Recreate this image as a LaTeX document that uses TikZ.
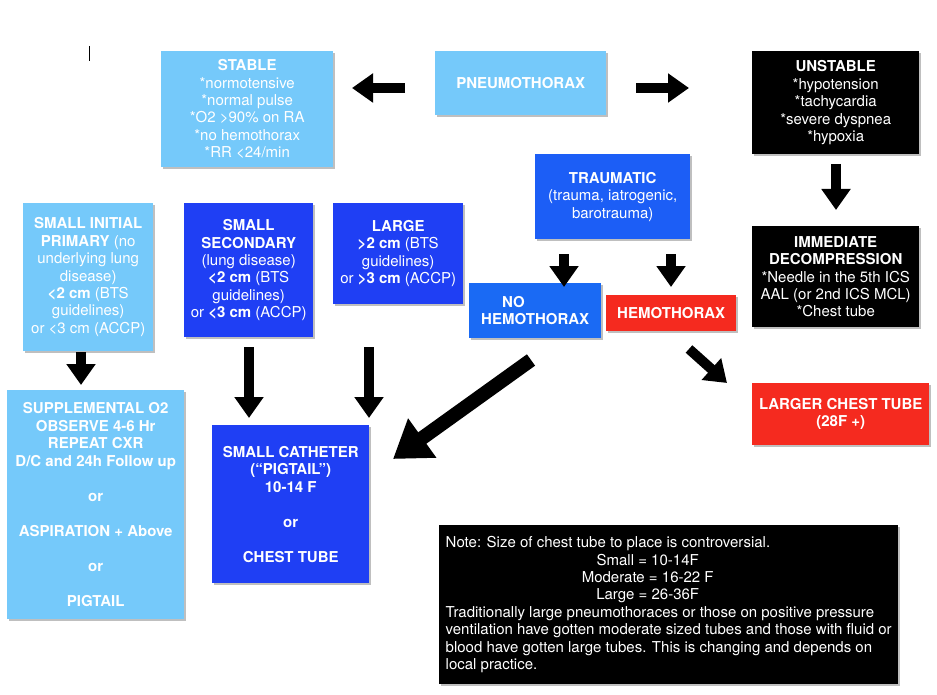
\documentclass[tikz,border=0pt]{standalone}
\usepackage{fontspec}
\setmainfont{TeX Gyre Heros}
\usetikzlibrary{arrows.meta,shadows}
\definecolor{lblue}{HTML}{75C9FA}
\definecolor{tblue}{HTML}{1C5EF6}
\definecolor{dblue}{HTML}{1F3FF4}
\definecolor{nblue}{HTML}{1A6AF4}
\definecolor{rred}{HTML}{F52A1F}
\tikzset{
  box/.style={anchor=north west, inner sep=0pt, align=center, text=white,
    font=\fontsize{15}{17.4}\selectfont,
    drop shadow={shadow xshift=1.5pt, shadow yshift=-2pt, fill=black, opacity=0.25}},
  lbbox/.style={box, fill=lblue},
  tbbox/.style={box, fill=tblue},
  dbbox/.style={box, fill=dblue},
  nbbox/.style={box, fill=nblue},
  rdbox/.style={box, fill=rred},
  bkbox/.style={box, fill=black},
  barrow/.style={line width=10pt, -{Triangle[length=21pt,width=28pt]}},
  bigarrow/.style={line width=14pt, -{Triangle[length=36pt,width=46pt]}},
}
\begin{document}
\begin{tikzpicture}[x=1pt,y=-1pt]
\useasboundingbox[fill=white] (0,0) rectangle (937,695);
\draw[line width=0.8pt] (89,46) -- (89,61);

\node[lbbox, minimum width=172pt, minimum height=116pt] (stable) at (161,51)
  {\textbf{STABLE}\\*normotensive\\*normal pulse\\*O2 >90\% on RA\\*no hemothorax\\*RR <24/min};
\node[lbbox, minimum width=171pt, minimum height=64pt] (pneu) at (435,51)
  {\textbf{PNEUMOTHORAX}};
\node[bkbox, minimum width=167pt, minimum height=103pt] (unstable) at (752,51)
  {\textbf{UNSTABLE}\\*hypotension\\*tachycardia\\*severe dyspnea\\*hypoxia};
\node[tbbox, minimum width=155pt, minimum height=85pt] (trauma) at (535,154)
  {\textbf{TRAUMATIC}\\(trauma, iatrogenic,\\barotrauma)};
\node[bkbox, minimum width=167pt, minimum height=101pt] (decomp) at (752,226)
  {\textbf{IMMEDIATE}\\\textbf{DECOMPRESSION}\\*Needle in the 5th ICS\\AAL (or 2nd ICS MCL)\\*Chest tube};
\node[lbbox, minimum width=130pt, minimum height=148pt] (sprim) at (23,203)
  {\textbf{SMALL INITIAL}\\\textbf{PRIMARY} (no\\underlying lung\\disease)\\\textbf{<2 cm} (BTS\\guidelines)\\or <3 cm (ACCP)};
\node[dbbox, minimum width=129pt, minimum height=134pt] (ssec) at (184,203)
  {\textbf{SMALL}\\\textbf{SECONDARY}\\(lung disease)\\\textbf{<2 cm} (BTS\\guidelines)\\or \textbf{<3 cm} (ACCP)};
\node[dbbox, minimum width=130pt, minimum height=101pt] (large) at (333,203)
  {\textbf{LARGE}\\\textbf{>2 cm} (BTS\\guidelines)\\or \textbf{>3 cm} (ACCP)};
\node[nbbox, minimum width=132pt, minimum height=55pt, align=left] (nohemo) at (469,283)
  {\hspace*{21pt}\textbf{NO}\\\textbf{HEMOTHORAX}};
\node[rdbox, minimum width=130pt, minimum height=36pt] (hemo) at (606,295)
  {\textbf{HEMOTHORAX}};
\node[rdbox, minimum width=177pt, minimum height=62pt] (larger) at (752,383)
  {\textbf{LARGER CHEST TUBE}\\\textbf{(28F +)}};
\node[lbbox, minimum width=177pt, minimum height=229pt, font=\fontsize{15}{17.5}\selectfont\bfseries] (suppl) at (7,390)
  {SUPPLEMENTAL O2\\OBSERVE 4-6 Hr\\REPEAT CXR\\D/C and 24h Follow up\\[17.5pt]or\\[17.5pt]ASPIRATION + Above\\[17.5pt]or\\[17.5pt]PIGTAIL};
\node[dbbox, minimum width=157pt, minimum height=158pt, font=\fontsize{15}{17.5}\selectfont\bfseries] (cath) at (212,425)
  {SMALL CATHETER\\(“PIGTAIL”)\\10-14 F\\[17.5pt]or\\[17.5pt]CHEST TUBE};
\node[bkbox, minimum width=459pt, minimum height=159pt, align=left, font=\fontsize{15}{17.4}\selectfont] (note) at (439,525)
  {Note: Size of chest tube to place is controversial.\\
   \makebox[404pt]{Small = 10-14F}\\
   \makebox[404pt]{Moderate = 16-22 F}\\
   \makebox[404pt]{Large = 26-36F}\\
   Traditionally large pneumothoraces or those on positive pressure\\
   ventilation have gotten moderate sized tubes and those with fluid or\\
   blood have gotten large tubes. This is changing and depends on\\
   local practice.};

\coordinate (a1s) at (405,88);  \coordinate (a1e) at (352,88);
\coordinate (a2s) at (636,88);  \coordinate (a2e) at (689,88);
\coordinate (a3s) at (836,164); \coordinate (a3e) at (836,210);
\coordinate (a4s) at (564,254); \coordinate (a4e) at (564,287);
\coordinate (a5s) at (671,254); \coordinate (a5e) at (671,287);
\coordinate (a6s) at (81,352);  \coordinate (a6e) at (81,385);
\coordinate (a7s) at (249,347); \coordinate (a7e) at (249,418);
\coordinate (a8s) at (369,347); \coordinate (a8e) at (369,418);
\coordinate (a9s) at (531,360); \coordinate (a9e) at (393,459);
\coordinate (a10s) at (689,349); \coordinate (a10e) at (727,383);

\draw[barrow] (a1s) -- (a1e);
\draw[barrow] (a2s) -- (a2e);
\draw[barrow] (a3s) -- (a3e);
\draw[barrow] (a4s) -- (a4e);
\draw[barrow] (a5s) -- (a5e);
\draw[barrow] (a6s) -- (a6e);
\draw[barrow] (a7s) -- (a7e);
\draw[barrow] (a8s) -- (a8e);
\draw[bigarrow] (a9s) -- (a9e);
\draw[barrow] (a10s) -- (a10e);
\end{tikzpicture}
\end{document}
